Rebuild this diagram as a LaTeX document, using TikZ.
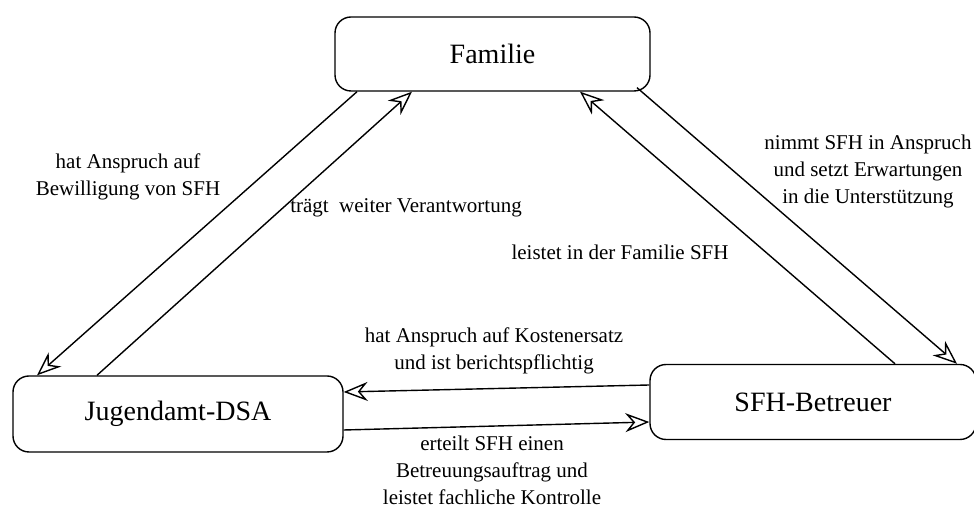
\documentclass[tikz,border=0pt]{standalone}
\usepackage{fontspec}
\setmainfont{Liberation Serif}
\usetikzlibrary{arrows.meta}

\begin{document}
\begin{tikzpicture}[
		x = 0.5pt,
		y = -0.5pt,
		bx/.style = {
			draw,
			rectangle,
			rounded corners = 8pt,
			line width = 0.7pt,
			inner sep = 0,
			font = \fontsize{14}{16}\selectfont
		},
		lb/.style = {
			align = center,
			inner sep = 0,
			font = \fontsize{10.5}{13.5}\selectfont
		},
		pf/.style = {
			line width = 0.7pt,
			-{Stealth[open, length = 12pt, width = 9.5pt, inset = 4pt]}
		}
	]
	\useasboundingbox (0, 0) rectangle (974, 506);

	\node [bx, minimum width = 157.5pt, minimum height = 37pt] (fam) at (492.5, 54) {Familie};
	\node [bx, minimum width = 165pt, minimum height = 38pt] (jug) at (178, 414) {Jugendamt-DSA};
	\node [bx, minimum width = 163pt, minimum height = 37.5pt] (sfh) at (813, 402) {SFH-Betreuer};

	\draw [pf] ([xshift = -67.75pt]fam.south) -- ([xshift = -70.5pt]jug.north);
	\draw [pf] ([xshift = -40.5pt]jug.north) -- ([xshift = -40.25pt]fam.south);
	\draw [pf] ([xshift = 72.25pt, yshift = 2pt]fam.south) -- ([xshift = 72pt]sfh.north);
	\draw [pf] ([xshift = 41pt]sfh.north) -- ([xshift = 43.75pt]fam.south);
	\draw [pf] ([yshift = 8.5pt]sfh.west) -- ([yshift = 11pt]jug.east);
	\draw [pf] ([yshift = -8pt]jug.east) -- ([yshift = -10pt]sfh.west);

	\node [lb] (l1) at (128, 177) {hat Anspruch auf\\Bewilligung von SFH};
	\node [lb] (l2) at (406, 208) {trägt\ \ weiter Verantwortung};
	\node [lb] (l3) at (620, 252) {leistet in der Familie SFH};
	\node [lb] (l4) at (868, 171) {nimmt SFH in Anspruch\\und setzt Erwartungen\\in die Unterstützung};
	\node [lb] (l5) at (494, 351) {hat Anspruch auf Kostenersatz\\und ist berichtspflichtig};
	\node [lb] (l6) at (492, 470) {erteilt SFH einen\\Betreuungsauftrag und\\leistet fachliche Kontrolle};
\end{tikzpicture}
\end{document}
